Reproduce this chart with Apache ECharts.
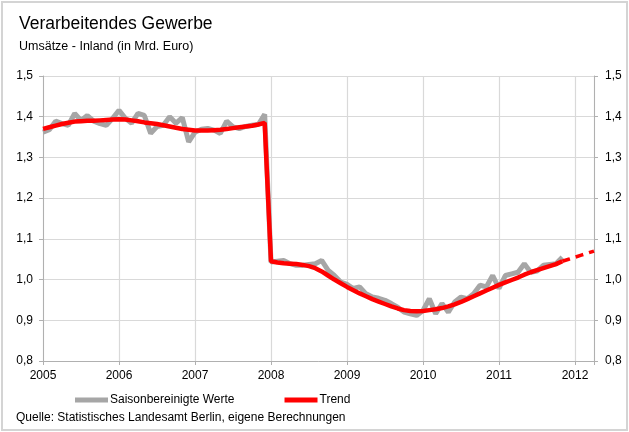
<!DOCTYPE html>
<html>
<head>
<meta charset="utf-8">
<script src="https://cdn.jsdelivr.net/npm/echarts@6/dist/echarts.min.js"></script>
<style>
  html, body { margin: 0; padding: 0; background: #fff; }
  #chart { width: 629px; height: 432px; }
</style>
</head>
<body>
<div id="chart"></div>
<script>
// monthly values, first point = Jan 2005
const startYear = 2005;

const seasonalValues = [
  // 2005
  1.362, 1.368, 1.389, 1.383, 1.379, 1.408, 1.391, 1.403, 1.389, 1.383, 1.379, 1.396,
  // 2006
  1.416, 1.396, 1.384, 1.408, 1.403, 1.359, 1.376, 1.379, 1.400, 1.384, 1.398, 1.338,
  // 2007
  1.362, 1.369, 1.371, 1.367, 1.359, 1.389, 1.375, 1.371, 1.376, 1.379, 1.381, 1.406,
  // 2008
  1.043, 1.045, 1.047, 1.039, 1.035, 1.035, 1.037, 1.039, 1.047, 1.023, 1.010, 0.994,
  // 2009
  0.988, 0.978, 0.982, 0.965, 0.957, 0.954, 0.949, 0.941, 0.932, 0.920, 0.916, 0.912,
  // 2010
  0.924, 0.953, 0.916, 0.941, 0.920, 0.945, 0.957, 0.953, 0.965, 0.986, 0.982, 1.010,
  // 2011 (until Nov)
  0.978, 1.010, 1.014, 1.018, 1.039, 1.018, 1.021, 1.035, 1.037, 1.039, 1.055
];

const trendValues = [
  1.370, 1.374, 1.378, 1.382, 1.385, 1.388, 1.389, 1.390, 1.390, 1.391, 1.392, 1.393,
  1.394, 1.393, 1.391, 1.389, 1.386, 1.384, 1.382, 1.379, 1.376, 1.373, 1.370, 1.368,
  1.366, 1.366, 1.366, 1.367, 1.368, 1.370, 1.372, 1.374, 1.376, 1.378, 1.381, 1.385,
  1.045, 1.042, 1.040, 1.039, 1.038, 1.036, 1.033, 1.028, 1.020, 1.010, 1.000, 0.991,
  0.982, 0.974, 0.966, 0.959, 0.952, 0.946, 0.940, 0.934, 0.929, 0.925, 0.923, 0.922,
  0.923, 0.925, 0.927, 0.930, 0.934, 0.939, 0.945, 0.952, 0.959, 0.966, 0.973, 0.980,
  0.987, 0.993, 0.999, 1.005, 1.012, 1.018, 1.023, 1.028, 1.033, 1.038, 1.045
];

// dashed continuation, Nov 2011 .. Apr 2012
const forecastStart = 82;
const forecastValues = [1.045, 1.050, 1.055, 1.060, 1.065, 1.070];

const yTicks = [0.8, 0.9, 1.0, 1.1, 1.2, 1.3, 1.4, 1.5];

const toPoints = (values, offset) =>
  values.map((v, i) => [startYear + (i + offset) / 12, v]);

const font = '"Liberation Sans", Arial, sans-serif';
const fmtY = v => v.toFixed(1).replace('.', ',');

const chart = echarts.init(document.getElementById('chart'));

const option = {
  animation: false,
  textStyle: { fontFamily: font },
  title: {
    text: 'Verarbeitendes Gewerbe',
    subtext: 'Umsätze - Inland (in Mrd. Euro)',
    left: 14,
    top: 10,
    itemGap: 7,
    textStyle: { fontFamily: font, fontSize: 17.5, fontWeight: 'normal', color: '#000' },
    subtextStyle: { fontFamily: font, fontSize: 12.5, color: '#000' }
  },
  legend: {
    data: ['Saisonbereinigte Werte', 'Trend'],
    left: 70,
    top: 389,
    icon: 'rect',
    itemWidth: 33,
    itemHeight: 5,
    itemGap: 50,
    textStyle: { fontFamily: font, fontSize: 12, color: '#000', padding: [0, 0, 0, -3] }
  },
  graphic: [
    {
      type: 'rect',
      shape: { x: 2, y: 2, width: 625, height: 428 },
      style: { fill: 'none', stroke: '#d4d4d4', lineWidth: 2 },
      silent: true
    },
    {
      type: 'text',
      left: 16,
      top: 412,
      style: {
        text: 'Quelle: Statistisches Landesamt Berlin, eigene Berechnungen',
        font: '12px ' + font,
        fill: '#000'
      }
    }
  ],
  grid: { left: 43, right: 35, top: 76, bottom: 71 },
  xAxis: {
    type: 'value',
    min: 2005,
    max: 2012.25,
    interval: 1,
    axisLine: { lineStyle: { color: '#b0b0b0', width: 1 } },
    axisTick: { show: true, length: 4, lineStyle: { color: '#b0b0b0' } },
    splitLine: { show: true, lineStyle: { color: '#d9d9d9', width: 1.2 } },
    axisLabel: {
      margin: 9,
      fontSize: 12,
      color: '#000',
      formatter: v => (Number.isInteger(v) ? String(v) : '')
    }
  },
  yAxis: [
    {
      type: 'value',
      min: yTicks[0],
      max: yTicks[yTicks.length - 1],
      interval: 0.1,
      axisLine: { show: true, lineStyle: { color: '#b0b0b0' } },
      axisTick: { show: true, length: 4, lineStyle: { color: '#b0b0b0' } },
      splitLine: { show: true, lineStyle: { color: '#d9d9d9', width: 1.2 } },
      axisLabel: { margin: 10, fontSize: 12, color: '#000', formatter: fmtY }
    },
    {
      type: 'value',
      position: 'right',
      min: yTicks[0],
      max: yTicks[yTicks.length - 1],
      interval: 0.1,
      axisLine: { show: true, lineStyle: { color: '#b0b0b0' } },
      axisTick: { show: true, length: 4, lineStyle: { color: '#b0b0b0' } },
      splitLine: { show: false },
      axisLabel: { margin: 11, fontSize: 12, color: '#000', formatter: fmtY }
    }
  ],
  series: [
    {
      name: 'Saisonbereinigte Werte',
      type: 'line',
      showSymbol: false,
      data: toPoints(seasonalValues, 0),
      lineStyle: { color: '#a6a6a6', width: 5 },
      itemStyle: { color: '#a6a6a6' },
      z: 2
    },
    {
      name: 'Trend',
      type: 'line',
      showSymbol: false,
      data: toPoints(trendValues, 0),
      lineStyle: { color: '#ff0000', width: 4.5 },
      itemStyle: { color: '#ff0000' },
      z: 3
    },
    {
      name: 'Trend Prognose',
      type: 'line',
      showSymbol: false,
      data: toPoints(forecastValues, forecastStart),
      lineStyle: { color: '#ff0000', width: 3.5, type: [8, 6] },
      itemStyle: { color: '#ff0000' },
      z: 3
    }
  ]
};

chart.setOption(option);
</script>
</body>
</html>
